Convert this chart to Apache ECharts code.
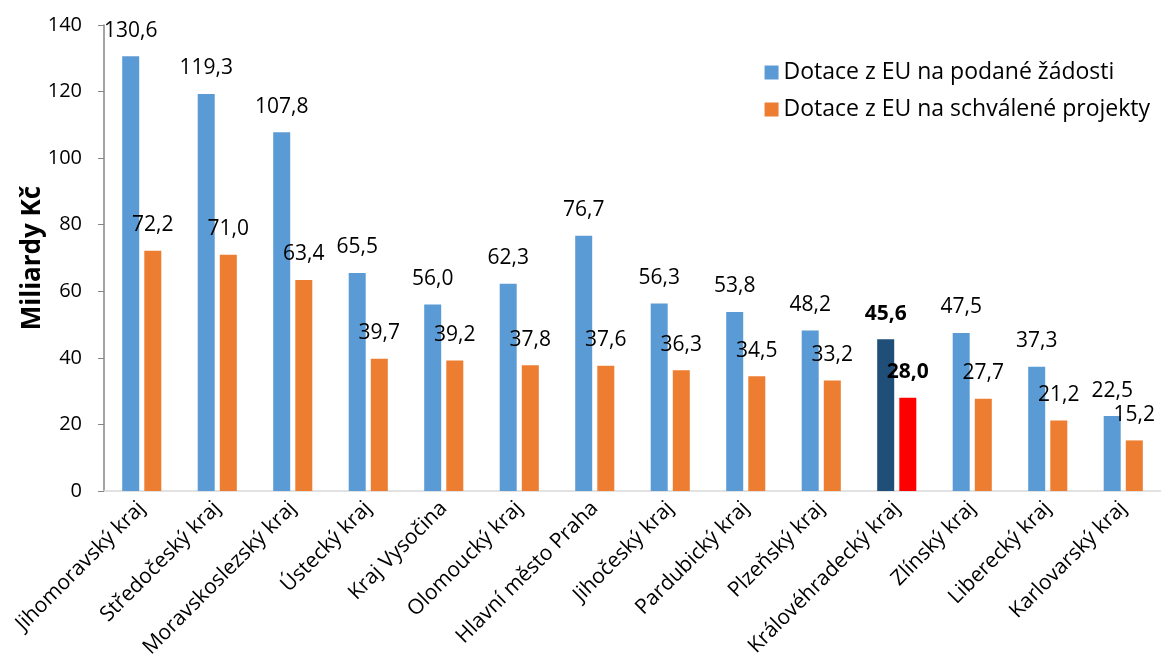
<!DOCTYPE html>
<html>
<head>
<meta charset="utf-8">
<script src="https://cdn.jsdelivr.net/npm/echarts@6/dist/echarts.min.js"></script>
<style>
  html, body { margin: 0; padding: 0; background: #fff; }
  #chart { width: 1161px; height: 664px; }
</style>
</head>
<body>
<div id="chart"></div>
<script>
const regions = [
  'Jihomoravský kraj', 'Středočeský kraj', 'Moravskoslezský kraj', 'Ústecký kraj',
  'Kraj Vysočina', 'Olomoucký kraj', 'Hlavní město Praha', 'Jihočeský kraj',
  'Pardubický kraj', 'Plzeňský kraj', 'Královéhradecký kraj', 'Zlínský kraj',
  'Liberecký kraj', 'Karlovarský kraj'
];
const requested = [130.6, 119.3, 107.8, 65.5, 56.0, 62.3, 76.7, 56.3, 53.8, 48.2, 45.6, 47.5, 37.3, 22.5];
const approved = [72.2, 71.0, 63.4, 39.7, 39.2, 37.8, 37.6, 36.3, 34.5, 33.2, 28.0, 27.7, 21.2, 15.2];
const yTicks = [0, 20, 40, 60, 80, 100, 120, 140];
const highlight = 'Královéhradecký kraj';

const font = '"Open Sans", "DejaVu Sans", sans-serif';
const fmt = (v) => v.toFixed(1).replace('.', ',');

// the highlighted region gets its own colours and bold labels
const withHighlight = (values, color) => values.map((v, i) => {
  if (regions[i] !== highlight) return v;
  return { value: v, itemStyle: { color: color }, label: { fontWeight: 'bold' } };
});

const chart = echarts.init(document.getElementById('chart'));

const barLabel = {
  show: true,
  position: 'top',
  distance: 15,
  fontFamily: font,
  fontSize: 21,
  color: '#000',
  formatter: (p) => fmt(p.value)
};

chart.setOption({
  animation: false,
  textStyle: { fontFamily: font },
  grid: { left: 104, right: 0, top: 25, bottom: 173 },
  legend: {
    right: 6,
    top: 56,
    orient: 'vertical',
    itemWidth: 14,
    itemHeight: 14,
    itemGap: 14,
    icon: 'rect',
    textStyle: { fontFamily: font, fontSize: 23, color: '#000' },
    data: ['Dotace z EU na podané žádosti', 'Dotace z EU na schválené projekty']
  },
  xAxis: {
    type: 'category',
    data: regions,
    axisLine: { lineStyle: { color: '#d9d9d9', width: 1.5 } },
    axisTick: { show: false },
    axisLabel: {
      interval: 0,
      rotate: 45,
      margin: 14,
      fontFamily: font,
      fontSize: 21,
      color: '#000'
    }
  },
  yAxis: {
    type: 'value',
    min: yTicks[0],
    max: yTicks[yTicks.length - 1],
    interval: yTicks[1] - yTicks[0],
    name: 'Miliardy Kč',
    nameLocation: 'middle',
    nameGap: 58,
    nameMoveOverlap: false,
    nameTextStyle: { fontFamily: font, fontSize: 26, fontWeight: 'bold', color: '#000' },
    axisLine: { show: true, lineStyle: { color: '#868686', width: 1.5 } },
    axisTick: { show: true, length: 6, lineStyle: { color: '#868686' } },
    splitLine: { show: false },
    axisLabel: { fontFamily: font, fontSize: 20, color: '#000', margin: 22 }
  },
  series: [
    {
      name: 'Dotace z EU na podané žádosti',
      type: 'bar',
      barWidth: 17,
      barGap: '30%',
      itemStyle: { color: '#5b9bd5' },
      label: barLabel,
      data: withHighlight(requested, '#1f4e79')
    },
    {
      name: 'Dotace z EU na schválené projekty',
      type: 'bar',
      barWidth: 17,
      barGap: '30%',
      itemStyle: { color: '#ed7d31' },
      label: barLabel,
      data: withHighlight(approved, '#ff0000')
    }
  ]
});
</script>
</body>
</html>
